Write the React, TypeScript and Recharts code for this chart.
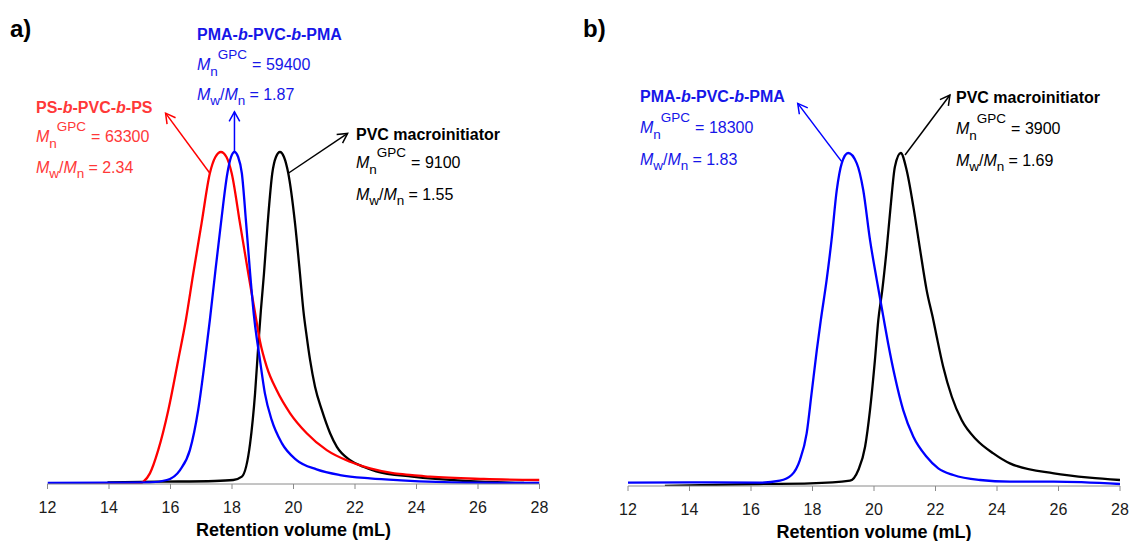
import React from "react";
import { LineChart, Line, XAxis, YAxis, ReferenceLine } from "recharts";

// GPC traces, normalised so every peak is 1..
const volumeTicks = [12, 14, 16, 18, 20, 22, 24, 26, 28];

// panel a
const psVol = [12.2, 14, 15.0, 15.12, 15.33, 15.6, 15.93, 16.25, 16.5, 16.74, 17.01, 17.28, 17.46, 17.64, 17.82, 17.99, 18.26, 18.53, 18.76, 18.91, 19.13, 19.45, 19.89, 20.43, 21.08, 21.84, 22.49, 23.28, 23.86, 24.44, 26.19, 28];
const psSig = [0, 0, 0.001, 0.007, 0.032, 0.102, 0.223, 0.373, 0.494, 0.634, 0.785, 0.936, 0.985, 1, 0.985, 0.936, 0.785, 0.634, 0.51, 0.43, 0.353, 0.283, 0.213, 0.153, 0.102, 0.067, 0.047, 0.032, 0.027, 0.022, 0.015, 0.012];

const pmaAVol = [12, 14, 15.33, 15.88, 16.31, 16.63, 16.9, 17.12, 17.28, 17.45, 17.64, 17.85, 17.97, 18.08, 18.2, 18.32, 18.46, 18.59, 18.71, 18.91, 19.07, 19.29, 19.62, 20.1, 20.75, 21.51, 22.49, 23.5, 25.61, 28];
const pmaASig = [0.003, 0.004, 0.005, 0.012, 0.042, 0.102, 0.223, 0.373, 0.494, 0.634, 0.785, 0.936, 0.985, 1, 0.985, 0.936, 0.785, 0.634, 0.51, 0.373, 0.273, 0.193, 0.123, 0.072, 0.044, 0.027, 0.017, 0.011, 0.004, 0.003];

const pvcAVol = [13.95, 15.6, 17.44, 18.04, 18.32, 18.59, 18.75, 18.86, 18.94, 19.04, 19.16, 19.31, 19.43, 19.56, 19.69, 19.83, 20.05, 20.21, 20.32, 20.43, 20.54, 20.7, 20.92, 21.19, 21.41, 21.84, 22.27, 22.69, 23.86, 25.61, 27.01, 27.5];
const pvcASig = [0.005, 0.007, 0.009, 0.012, 0.022, 0.123, 0.273, 0.424, 0.524, 0.634, 0.785, 0.936, 0.985, 1, 0.985, 0.936, 0.785, 0.634, 0.524, 0.444, 0.373, 0.293, 0.223, 0.153, 0.112, 0.072, 0.052, 0.038, 0.022, 0.009, 0.004, 0.003];

// panel b
const pmaBVol = [12, 14, 16.29, 16.94, 17.32, 17.59, 17.81, 17.97, 18.14, 18.27, 18.46, 18.62, 18.79, 18.95, 19.16, 19.44, 19.65, 19.87, 20.09, 20.3, 20.46, 20.68, 20.95, 21.28, 21.71, 22.09, 22.58, 23.45, 24.42, 25.85, 28];
const pmaBSig = [0.01, 0.011, 0.01, 0.016, 0.033, 0.078, 0.158, 0.278, 0.408, 0.498, 0.619, 0.739, 0.889, 0.969, 1, 0.969, 0.889, 0.739, 0.619, 0.51, 0.428, 0.328, 0.228, 0.148, 0.088, 0.053, 0.033, 0.018, 0.013, 0.013, 0.006];

const pvcBVol = [13.2, 14, 16.29, 17.92, 19.22, 19.49, 19.71, 19.87, 20.03, 20.14, 20.27, 20.41, 20.54, 20.68, 20.87, 21.06, 21.28, 21.5, 21.71, 21.93, 22.04, 22.25, 22.53, 22.85, 23.34, 23.88, 24.42, 25.85, 27.01, 28];
const pvcBSig = [0, 0.002, 0.006, 0.008, 0.016, 0.048, 0.118, 0.228, 0.378, 0.498, 0.589, 0.709, 0.839, 0.959, 1, 0.949, 0.839, 0.709, 0.589, 0.498, 0.448, 0.358, 0.268, 0.198, 0.138, 0.098, 0.068, 0.038, 0.025, 0.018];

// arrows: [from, to] in (mL, signal)
const arrowPS = [[17.28, 0.936], [15.84, 1.117]];
const arrowPMAa = [[18.08, 1.0], [18.08, 1.121]];
const arrowPVCa = [[19.83, 0.936], [21.76, 1.056]];
const arrowPMAb = [[18.95, 0.974], [17.52, 1.149]];
const arrowPVCb = [[21.01, 0.994], [22.47, 1.174]];

const zip = (xs: number[], ys: number[]) => xs.map((x, i) => ({ x, y: ys[i] }));

const FONT = "'Liberation Sans', Arial, Helvetica, sans-serif";
const RED = "#ff0000";
const BLUE = "#0000ff";
const RED_TXT = "#ff3838";
const BLUE_TXT = "#1616e8";

function Arrow(props: any) {
  const { x1, y1, x2, y2, stroke } = props;
  const ang = Math.atan2(y2 - y1, x2 - x1);
  const len = 11;
  const spread = 0.5;
  const p1 = [x2 + len * Math.cos(ang + Math.PI - spread), y2 + len * Math.sin(ang + Math.PI - spread)];
  const p2 = [x2 + len * Math.cos(ang + Math.PI + spread), y2 + len * Math.sin(ang + Math.PI + spread)];
  return (
    <g>
      <line x1={x1} y1={y1} x2={x2} y2={y2} stroke={stroke} strokeWidth={1.5} />
      <polyline points={`${p1[0]},${p1[1]} ${x2},${y2} ${p2[0]},${p2[1]}`} fill="none" stroke={stroke} strokeWidth={1.5} />
    </g>
  );
}

function seg(a: number[][]) {
  return [{ x: a[0][0], y: a[0][1] }, { x: a[1][0], y: a[1][1] }];
}

function Panel({ width, margin, series, arrows }: any) {
  return (
    <LineChart width={width} height={541} margin={margin}>
      <XAxis
        dataKey="x"
        type="number"
        domain={[12, 28]}
        allowDataOverflow
        ticks={volumeTicks}
        height={52}
        tickSize={5}
        tickMargin={13}
        stroke="#8a8a8a"
        tick={{ fill: "#1a1a1a", fontSize: 16, fontFamily: FONT }}
        label={{
          value: "Retention volume (mL)",
          position: "insideBottom",
          offset: 0,
          style: { fill: "#000", fontSize: 18, fontWeight: "bold", fontFamily: FONT },
        }}
      />
      <YAxis hide type="number" domain={[0, 1.4]} allowDataOverflow />
      {series.map((s: any) => (
        <Line
          key={s.name}
          data={s.data}
          dataKey="y"
          type="monotone"
          stroke={s.color}
          strokeWidth={2.3}
          dot={false}
          isAnimationActive={false}
        />
      ))}
      {arrows.map((a: any, i: number) => (
        <ReferenceLine key={i} segment={seg(a.pts)} stroke={a.color} shape={<Arrow />} ifOverflow="visible" />
      ))}
    </LineChart>
  );
}

function Stats({ x, ys, color, title, mn, pdi }: any) {
  const sub = 13.5;
  return (
    <g fill={color} fontFamily={FONT} fontSize={16}>
      <text x={x} y={ys[0]} fontWeight="bold">
        {title.map((t: string, i: number) => (
          <tspan key={i} fontStyle={t === "b" ? "italic" : "normal"}>{t}</tspan>
        ))}
      </text>
      <text x={x} y={ys[1]}>
        <tspan fontStyle="italic">M</tspan>
        <tspan fontSize={sub} dy={6}>n</tspan>
        <tspan fontSize={sub} dy={-17.5}>GPC</tspan>
        <tspan dy={11.5} dx={5}>{`= ${mn}`}</tspan>
      </text>
      <text x={x} y={ys[2]}>
        <tspan fontStyle="italic">M</tspan>
        <tspan fontSize={sub} dy={5}>w</tspan>
        <tspan dy={-5}>/</tspan>
        <tspan fontStyle="italic">M</tspan>
        <tspan fontSize={sub} dy={5}>n</tspan>
        <tspan dy={-5} dx={4}>{`= ${pdi}`}</tspan>
      </text>
    </g>
  );
}

export default function App() {
  const pmaTitle = ["PMA-", "b", "-PVC-", "b", "-PMA"];
  const psTitle = ["PS-", "b", "-PVC-", "b", "-PS"];
  return (
    <div style={{ position: "absolute", left: 0, top: 0, width: 1132, height: 541, background: "#fff" }}>
      <div style={{ position: "absolute", left: 0, top: 0 }}>
        <Panel
          width={560}
          margin={{ top: 19.2, right: 20.5, bottom: 5, left: 47.5 }}
          series={[
            { name: "pvc", data: zip(pvcAVol, pvcASig), color: "#000" },
            { name: "ps", data: zip(psVol, psSig), color: RED },
            { name: "pma", data: zip(pmaAVol, pmaASig), color: BLUE },
          ]}
          arrows={[
            { pts: arrowPS, color: RED },
            { pts: arrowPMAa, color: BLUE },
            { pts: arrowPVCa, color: "#000" },
          ]}
        />
      </div>
      <div style={{ position: "absolute", left: 580, top: 0 }}>
        <Panel
          width={552}
          margin={{ top: 19.8, right: 12, bottom: 3, left: 48 }}
          series={[
            { name: "pvc", data: zip(pvcBVol, pvcBSig), color: "#000" },
            { name: "pma", data: zip(pmaBVol, pmaBSig), color: BLUE },
          ]}
          arrows={[
            { pts: arrowPMAb, color: BLUE },
            { pts: arrowPVCb, color: "#000" },
          ]}
        />
      </div>
      <svg width={1132} height={541} style={{ position: "absolute", left: 0, top: 0, pointerEvents: "none" }}>
        <text x={10} y={36.5} fontFamily={FONT} fontWeight="bold" fontSize={24} fill="#000">a)</text>
        <text x={583} y={37} fontFamily={FONT} fontWeight="bold" fontSize={24} fill="#000">b)</text>
        <Stats x={197} ys={[40, 70, 100]} color={BLUE_TXT} title={pmaTitle} mn="59400" pdi="1.87" />
        <Stats x={36} ys={[112.5, 142, 173]} color={RED_TXT} title={psTitle} mn="63300" pdi="2.34" />
        <Stats x={356} ys={[140, 168, 200]} color="#000" title={["PVC macroinitiator"]} mn="9100" pdi="1.55" />
        <Stats x={640} ys={[101.5, 133, 165]} color={BLUE_TXT} title={pmaTitle} mn="18300" pdi="1.83" />
        <Stats x={956} ys={[102.5, 134, 166]} color="#000" title={["PVC macroinitiator"]} mn="3900" pdi="1.69" />
      </svg>
    </div>
  );
}
